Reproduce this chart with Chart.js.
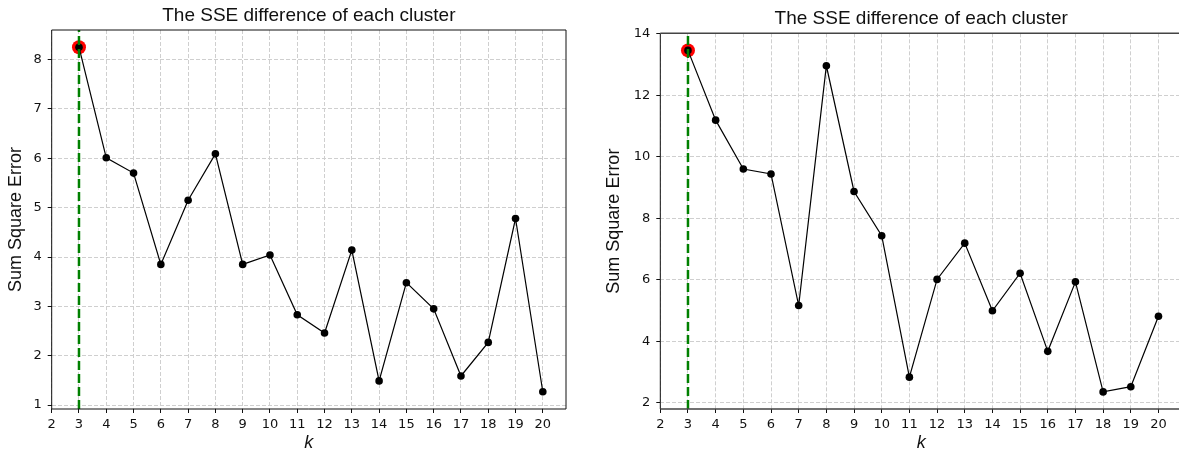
<!DOCTYPE html>
<html>
<head>
<meta charset="utf-8">
<script src="https://cdn.jsdelivr.net/npm/chart.js@4/dist/chart.umd.min.js"></script>
<style>
  html, body { margin: 0; padding: 0; overflow: hidden; background: #fff; width: 1179px; height: 452px; }
  .box { position: absolute; top: 0; }
</style>
</head>
<body>
<div class="box" style="left:0px;"><canvas id="c1" width="590" height="452"></canvas></div>
<div class="box" style="left:590px;"><canvas id="c2" width="600" height="452"></canvas></div>
<script>
// ---- data ----
const kValues = [3, 4, 5, 6, 7, 8, 9, 10, 11, 12, 13, 14, 15, 16, 17, 18, 19, 20];
const sseLeft = [8.25, 6.01, 5.70, 3.85, 5.15, 6.09, 3.85, 4.04, 2.83, 2.46, 4.14, 1.49, 3.48, 2.95, 1.59, 2.27, 4.78, 1.27];
const sseRight = [13.46, 11.19, 9.60, 9.44, 5.16, 12.96, 8.87, 7.43, 2.83, 6.01, 7.19, 4.99, 6.21, 3.67, 5.93, 2.35, 2.52, 4.81];
const xTicks = [2, 3, 4, 5, 6, 7, 8, 9, 10, 11, 12, 13, 14, 15, 16, 17, 18, 19, 20];
const yTicksLeft = [1, 2, 3, 4, 5, 6, 7, 8];
const yTicksRight = [2, 4, 6, 8, 10, 12, 14];
const xLimits = [2, 20.85];
const yLimitsLeft = [0.921, 8.599];
const yLimitsRight = [1.7945, 14.0155];
const bestK = 3;
const titleText = 'The SSE difference of each cluster';
const yTitleText = 'Sum Square Error';
const xTitleText = 'k';

const framePlugin = {
  id: 'frame',
  afterDatasetsDraw(chart, args, opts) {
    const { ctx, chartArea: { left, right, top, bottom }, scales: { x } } = chart;
    const px = x.getPixelForValue(opts.vlineX);
    ctx.save();
    ctx.beginPath();
    ctx.rect(left, top, right - left, bottom - top);
    ctx.clip();
    ctx.strokeStyle = '#008000';
    ctx.lineWidth = 2.5;
    ctx.setLineDash([9, 4]);
    ctx.beginPath();
    ctx.moveTo(px, bottom);
    ctx.lineTo(px, top);
    ctx.stroke();
    ctx.restore();

    ctx.save();
    ctx.setLineDash([]);
    // left spine
    ctx.strokeStyle = opts.leftColor; ctx.lineWidth = opts.leftWidth;
    ctx.beginPath(); ctx.moveTo(left, top); ctx.lineTo(left, bottom); ctx.stroke();
    // other spines
    ctx.strokeStyle = opts.color; ctx.lineWidth = opts.width;
    ctx.beginPath();
    ctx.moveTo(left, top); ctx.lineTo(right, top); ctx.lineTo(right, bottom); ctx.lineTo(left, bottom);
    ctx.stroke();
    ctx.restore();
  }
};

function makeChart(id, sse, yTicks, yLim, cfg) {
  const bestIdx = kValues.indexOf(bestK);
  const tickFont = { family: 'DejaVu Sans', size: 13 };
  return new Chart(document.getElementById(id), {
    type: 'line',
    data: {
      datasets: [
        {
          data: kValues.map((k, i) => ({ x: k, y: sse[i] })),
          borderColor: '#000',
          borderWidth: 1.2,
          backgroundColor: '#000',
          pointRadius: 3.8,
          pointBorderWidth: 0,
          pointBackgroundColor: '#000',
          tension: 0,
          clip: false
        },
        {
          data: [{ x: bestK, y: sse[bestIdx] }],
          showLine: false,
          pointRadius: 7,
          pointBorderWidth: 0,
          pointBackgroundColor: '#ff0000',
          backgroundColor: '#ff0000',
          clip: false
        }
      ]
    },
    options: {
      responsive: false,
      animation: false,
      devicePixelRatio: 1,
      layout: { padding: { left: 0, right: cfg.padRight, top: 0, bottom: 0 } },
      plugins: {
        legend: { display: false },
        tooltip: { enabled: false },
        title: {
          display: true,
          text: titleText,
          fullSize: false,
          color: '#111',
          font: { family: 'Liberation Sans', size: 19, weight: 'normal', lineHeight: 1 },
          padding: { top: cfg.titleTop, bottom: cfg.titleBottom }
        },
        frame: { vlineX: bestK, color: cfg.spineColor, width: cfg.spineWidth, leftColor: '#111', leftWidth: 1 }
      },
      scales: {
        x: {
          type: 'linear',
          min: xLimits[0],
          max: xLimits[1],
          afterBuildTicks: (s) => { s.ticks = xTicks.map(v => ({ value: v })); },
          afterFit: (s) => { s.height = 43; },
          ticks: { autoSkip: false, maxRotation: 0, color: '#111', font: tickFont, padding: 4 },
          grid: { color: '#cfcfcf', lineWidth: 1, tickColor: '#111', tickLength: 4, tickWidth: 1, tickBorderDash: [] },
          border: { display: false, dash: [4, 2] },
          title: {
            display: true, text: xTitleText, color: '#111',
            font: { family: 'Liberation Sans', size: 18, style: 'italic', lineHeight: 1 },
            padding: { top: 0, bottom: 0 }
          }
        },
        y: {
          type: 'linear',
          min: yLim[0],
          max: yLim[1],
          afterBuildTicks: (s) => { s.ticks = yTicks.map(v => ({ value: v })); },
          afterFit: (s) => { s.width = cfg.yWidth; },
          ticks: { color: '#111', font: tickFont, padding: 6 },
          grid: { color: '#cfcfcf', lineWidth: 1, tickColor: '#111', tickLength: 4, tickWidth: 1, tickBorderDash: [] },
          border: { display: false, dash: [4, 2] },
          title: {
            display: true, text: yTitleText, color: '#111',
            font: { family: 'Liberation Sans', size: 18, lineHeight: 1 },
            padding: { top: cfg.yTitlePad, bottom: 0 }
          }
        }
      }
    },
    plugins: [framePlugin]
  });
}

makeChart('c1', sseLeft, yTicksLeft, yLimitsLeft, {
  padRight: 24, titleTop: 6, titleBottom: 5, yWidth: 51.7, yTitlePad: 7, spineColor: '#111', spineWidth: 1
});
makeChart('c2', sseRight, yTicksRight, yLimitsRight, {
  padRight: 8, titleTop: 9, titleBottom: 5.3, yWidth: 70.3, yTitlePad: 15, spineColor: '#444', spineWidth: 1.5
});
</script>
</body>
</html>
